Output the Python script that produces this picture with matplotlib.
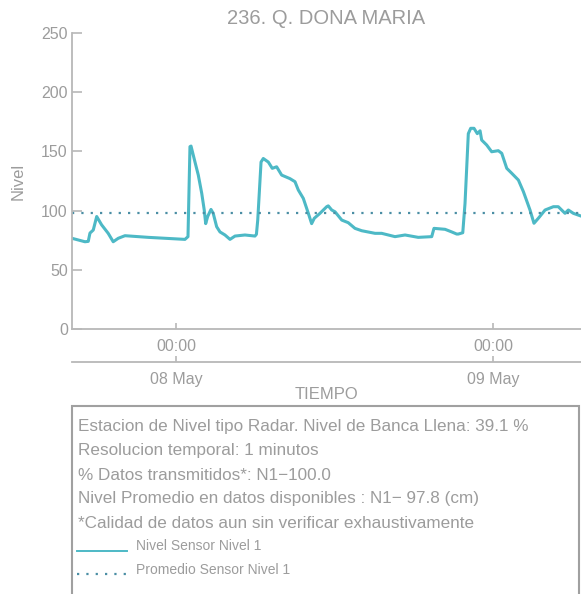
import pandas as pd
import matplotlib
matplotlib.use('Agg')
import matplotlib.pyplot as plt
import matplotlib.dates as mdates
from matplotlib.patches import Rectangle

# horas desde el 08 May 00:00 y nivel (cm)
horas = [-7.87, -6.89, -6.64, -6.51, -6.26, -6.00, -5.63, -5.13, -4.75, -4.37,
         -3.86, -2.10, 0.68, 0.91, 1.06, 1.14, 1.44, 1.69, 1.95, 2.14,
         2.25, 2.40, 2.65, 2.82, 3.08, 3.33, 3.71, 4.09, 4.47, 5.22,
         5.98, 6.09, 6.19, 6.44, 6.61, 6.99, 7.29, 7.62, 8.00, 8.63,
         9.01, 9.26, 9.64, 10.02, 10.27, 10.47, 10.90, 11.41, 11.53, 11.79,
         12.04, 12.55, 13.04, 13.55, 14.06, 15.07, 15.57, 16.58, 17.34, 18.34,
         19.36, 19.53, 20.37, 20.87, 21.25, 21.37, 21.71, 21.88, 22.13, 22.31,
         22.56, 22.81, 23.02, 23.14, 23.52, 23.90, 24.40, 24.66, 25.04, 25.42,
         25.92, 26.30, 26.80, 27.10, 27.43, 27.94, 28.57, 28.94, 29.45, 29.70,
         30.08, 30.66]
nivel = [76.6, 73.7, 74.0, 81.0, 83.6, 95.0, 88.0, 80.8, 73.7, 76.6,
         78.8, 77.4, 75.7, 78.0, 154.0, 154.5, 141.0, 130.0, 114.6, 100.5,
         89.0, 95.0, 101.0, 97.7, 86.4, 82.0, 79.4, 75.7, 78.5, 79.4,
         78.5, 80.0, 92.0, 141.0, 144.0, 141.0, 135.7, 137.0, 130.0, 127.0,
         124.4, 117.4, 110.3, 97.7, 89.0, 93.5, 97.7, 103.3, 104.0, 100.5,
         99.0, 92.0, 89.8, 85.0, 83.0, 80.8, 80.8, 78.0, 79.4, 77.4,
         78.0, 85.0, 84.2, 82.0, 80.2, 80.2, 81.3, 106.0, 165.0, 169.5,
         169.5, 165.0, 167.4, 159.6, 155.4, 149.7, 150.6, 148.4, 135.7, 131.5,
         125.8, 116.0, 100.5, 89.3, 93.5, 100.5, 103.3, 103.3, 97.7, 100.5,
         97.7, 95.4]
promedio = 97.8
x_min_h, x_max_h = -7.87, 30.66

info_lines = [
    'Estacion de Nivel tipo Radar. Nivel de Banca Llena: 39.1 %',
    'Resolucion temporal: 1 minutos',
    '% Datos transmitidos*: N1\u2212100.0',
    'Nivel Promedio en datos disponibles : N1\u2212 97.8 (cm)',
    '*Calidad de datos aun sin verificar exhaustivamente',
]

base = pd.Timestamp('2023-05-08')
tiempo = base + pd.to_timedelta(horas, unit='h')
t0 = base + pd.to_timedelta(x_min_h, unit='h')
t1 = base + pd.to_timedelta(x_max_h, unit='h')

gris_txt = '#9c9c9c'
gris_eje = '#b8b8b8'
color_linea = '#4db9c6'
color_prom = '#4a8ea4'

plt.rcParams['font.family'] = ['Liberation Sans', 'DejaVu Sans']

W, H = 581, 594
fig = plt.figure(figsize=(W / 100, H / 100), dpi=100)
ax = fig.add_axes([72 / W, 1 - 329 / H, 1 - 72 / W, 296 / H])

ax.plot(tiempo, nivel, color=color_linea, lw=2.2, solid_joinstyle='round')
ax.plot([t0, t1], [promedio, promedio], color=color_prom, lw=1.6, linestyle=(0, (1, 3.2)))

ax.set_xlim(t0, t1)
ax.set_ylim(0, 250)
ax.set_yticks([0, 50, 100, 150, 200, 250])
for s in ['top', 'right']:
    ax.spines[s].set_visible(False)
for s in ['left', 'bottom']:
    ax.spines[s].set_color(gris_eje)
    ax.spines[s].set_linewidth(1.3)
ax.tick_params(axis='y', direction='in', length=7, width=1.2, colors=gris_eje,
               labelcolor=gris_txt, labelsize=11.5, pad=3)
ax.xaxis.set_major_locator(mdates.DayLocator())
ax.xaxis.set_major_formatter(mdates.DateFormatter('%H:%M'))
ax.tick_params(axis='x', direction='in', length=4, width=1.2, colors=gris_eje,
               labelcolor=gris_txt, labelsize=11.5, pad=7)
ax.set_ylabel('Nivel', color=gris_txt, fontsize=12, labelpad=11)

sec = ax.secondary_xaxis(-33 / 296)
sec.xaxis.set_major_locator(mdates.DayLocator())
sec.xaxis.set_major_formatter(mdates.DateFormatter('%d May'))
sec.spines['bottom'].set_color(gris_eje)
sec.spines['bottom'].set_linewidth(1.3)
sec.tick_params(axis='x', direction='in', length=4, width=1.2, colors=gris_eje,
                labelcolor=gris_txt, labelsize=11.5, pad=7)
sec.set_xlabel('TIEMPO', color=gris_txt, fontsize=12, labelpad=0)

fig.text((72 + W) / 2 / W, 1 - 18 / H, '236. Q. DONA MARIA', ha='center', va='center',
         color=gris_txt, fontsize=14.5)

# cuadro de informacion
fig.patches.append(Rectangle((72 / W, -0.05), 507 / W, (594 - 406) / H + 0.05,
                             transform=fig.transFigure, fill=False,
                             edgecolor='#a0a0a0', lw=1.5))
for i, linea in enumerate(info_lines):
    fig.text(78 / W, 1 - (427 + 24 * i) / H, linea, ha='left', va='center',
             color=gris_txt, fontsize=12.3)
fig.add_artist(plt.Line2D([77 / W, 127 / W], [1 - 551 / H, 1 - 551 / H],
                          transform=fig.transFigure, color=color_linea, lw=1.4))
fig.add_artist(plt.Line2D([77 / W, 127 / W], [1 - 574 / H, 1 - 574 / H],
                          transform=fig.transFigure, color=color_prom, lw=1.6,
                          linestyle=(0, (1, 3.2))))
fig.text(136 / W, 1 - 546 / H, 'Nivel Sensor Nivel 1', ha='left', va='center',
         color=gris_txt, fontsize=10)
fig.text(136 / W, 1 - 570 / H, 'Promedio Sensor Nivel 1', ha='left', va='center',
         color=gris_txt, fontsize=10)

fig.savefig('out.png', dpi=100)
